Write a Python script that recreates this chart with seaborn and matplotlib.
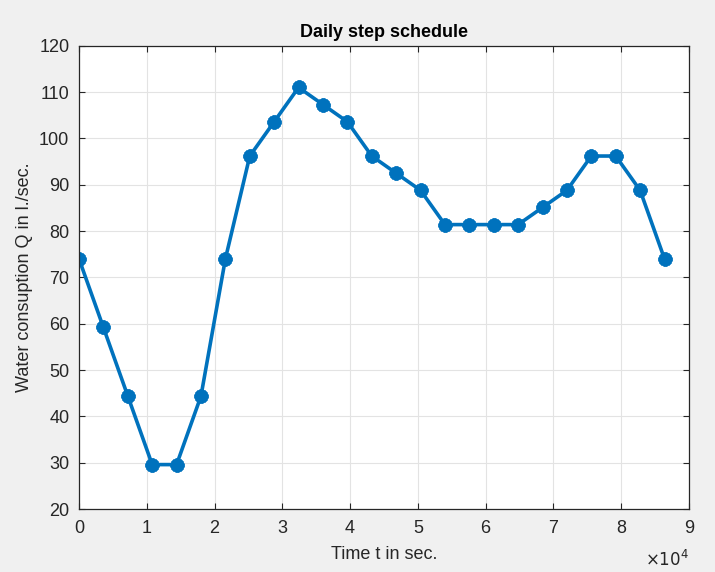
import numpy as np
import pandas as pd
import matplotlib
matplotlib.use("Agg")
import matplotlib.pyplot as plt
import seaborn as sns

# hourly schedule over one day (seconds)
time_s = [0, 3600, 7200, 10800, 14400, 18000, 21600, 25200, 28800, 32400,
          36000, 39600, 43200, 46800, 50400, 54000, 57600, 61200, 64800,
          68400, 72000, 75600, 79200, 82800, 86400]
flow_q = [74.0, 59.2, 44.4, 29.6, 29.6, 44.4, 74.0, 96.2, 103.6, 111.0,
          107.3, 103.6, 96.2, 92.5, 88.8, 81.4, 81.4, 81.4, 81.4,
          85.1, 88.8, 96.2, 96.2, 88.8, 74.0]
x_ticks = [0, 1, 2, 3, 4, 5, 6, 7, 8, 9]
y_ticks = [20, 30, 40, 50, 60, 70, 80, 90, 100, 110, 120]

sns.set_style("ticks")
plt.rcParams['font.family'] = ['Liberation Sans', 'DejaVu Sans']

df = pd.DataFrame({"t": time_s, "q": flow_q})

fig = plt.figure(figsize=(7.15, 5.72), dpi=100, facecolor="#f0f0f0")
ax = fig.add_axes([0.1105, 0.110, 0.853, 0.810])
ax.set_facecolor("white")

sns.lineplot(data=df, x="t", y="q", ax=ax, color="#0072BD", linewidth=2.6,
             marker=(8, 2, 0), markersize=10, markeredgewidth=3.0,
             markeredgecolor="#0072BD")

ax.set_xlim(0, 90000)
ax.set_ylim(20, 120)
ax.set_xticks([v * 1e4 for v in x_ticks])
ax.set_xticklabels([str(v) for v in x_ticks])
ax.set_yticks(y_ticks)
ax.grid(True, color="#e3e3e3", linewidth=0.8)
ax.tick_params(direction="in", length=4, labelsize=13, colors="#262626",
               top=True, right=True, labelcolor="#262626")
ax.tick_params(axis="x", pad=8)
ax.tick_params(axis="y", pad=7)
for s in ax.spines.values():
    s.set_color("#262626")
    s.set_linewidth(0.9)

ax.set_title("Daily step schedule", fontsize=13, fontweight="bold", pad=6, color="black")
ax.set_xlabel("Time t in sec.", fontsize=13, color="#262626", labelpad=6)
ax.set_ylabel("Water consuption Q in l./sec.", fontsize=13, color="#262626", labelpad=4)
ax.text(1.0, -0.085, r"$\times10^4$", transform=ax.transAxes, ha="right", va="top",
        fontsize=12, color="#262626")

fig.savefig("out.png", dpi=100, facecolor=fig.get_facecolor())
